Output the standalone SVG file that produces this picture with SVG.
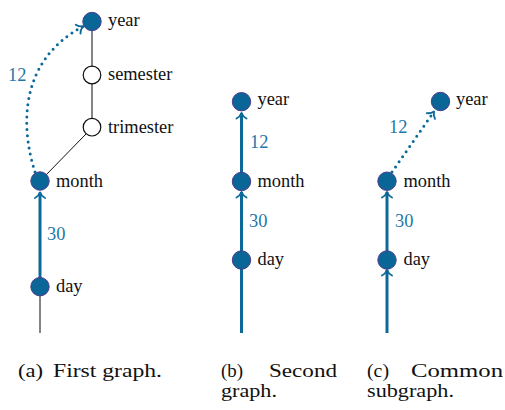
<svg xmlns="http://www.w3.org/2000/svg" width="505" height="410" viewBox="0 0 505 410">
<style>
.lbl{font-family:"Liberation Serif","Times New Roman",serif;font-size:18.4px;fill:#111}
.num{font-family:"Liberation Serif","Times New Roman",serif;font-size:18.4px;fill:#1f77a8}
.cap{font-family:"Liberation Serif","Times New Roman",serif;font-size:19px;fill:#111}
.full{fill:#0a6697;stroke:#4a3c8c;stroke-width:1}
.empty{fill:#fff;stroke:#111;stroke-width:1.2}
.blue{fill:none;stroke:#0d6a98;stroke-width:3}
.dot{fill:none;stroke:#0d6a98;stroke-width:3;stroke-dasharray:0 6.2;stroke-linecap:round}
.gray{fill:none;stroke:#666;stroke-width:1.6}
.thin{fill:none;stroke:#111;stroke-width:1}
</style>
<defs>
<marker id="ah" markerUnits="userSpaceOnUse" markerWidth="12" markerHeight="12" refX="0" refY="0" orient="auto" overflow="visible">
<path d="M -5.5 -5 C -4 -2 -1.5 -0.6 0 0 C -1.5 0.6 -4 2 -5.5 5" fill="none" stroke="#0d6a98" stroke-width="1.9" stroke-linecap="round" stroke-linejoin="round"/>
</marker>
</defs>
<g id="connectors">
<line class="gray" x1="92" y1="22" x2="92" y2="127"/>
<line class="thin" x1="86" y1="134" x2="45" y2="176"/>
<line class="gray" x1="40" y1="287" x2="40" y2="333"/>
<line class="blue" x1="40" y1="278" x2="40" y2="192.5" marker-end="url(#ah)"/>
<path class="dot" d="M 35 172 C 22 132 16 62 83 26.5" marker-end="url(#ah)"/>
<line class="blue" x1="241.5" y1="333" x2="241.5" y2="192" marker-end="url(#ah)"/>
<line class="blue" x1="241.5" y1="181" x2="241.5" y2="113" marker-end="url(#ah)"/>
<line class="blue" x1="387" y1="333" x2="387" y2="270" marker-end="url(#ah)"/>
<line class="blue" x1="387" y1="260" x2="387" y2="192" marker-end="url(#ah)"/>
<line class="dot" x1="392" y1="172" x2="434" y2="111.5" marker-end="url(#ah)"/>
<text class="num" x="8" y="81">12</text>
<text class="num" x="47" y="240">30</text>
<text class="num" x="250" y="148">12</text>
<text class="num" x="249" y="227">30</text>
<text class="num" x="389" y="133">12</text>
<text class="num" x="395" y="227">30</text>
</g>
<g id="a-year"><circle class="full" cx="92" cy="21.5" r="9.2"/><text class="lbl" x="108" y="26">year</text></g>
<g id="a-semester"><circle class="empty" cx="92" cy="75" r="8.8"/><text class="lbl" x="108" y="80">semester</text></g>
<g id="a-trimester"><circle class="empty" cx="92" cy="127.2" r="8.8"/><text class="lbl" x="108" y="133">trimester</text></g>
<g id="a-month"><circle class="full" cx="40" cy="181" r="9.2"/><text class="lbl" x="56" y="186.5">month</text></g>
<g id="a-day"><circle class="full" cx="40" cy="286.7" r="9.2"/><text class="lbl" x="56" y="292">day</text></g>
<g id="b-year"><circle class="full" cx="241.5" cy="101.7" r="9.2"/><text class="lbl" x="257.5" y="105">year</text></g>
<g id="b-month"><circle class="full" cx="241.5" cy="181.5" r="9.2"/><text class="lbl" x="257.5" y="186.5">month</text></g>
<g id="b-day"><circle class="full" cx="241.5" cy="260" r="9.2"/><text class="lbl" x="257.5" y="265">day</text></g>
<g id="c-year"><circle class="full" cx="440.5" cy="101.5" r="9.2"/><text class="lbl" x="456" y="105">year</text></g>
<g id="c-month"><circle class="full" cx="387" cy="181.2" r="9.2"/><text class="lbl" x="403.5" y="186.5">month</text></g>
<g id="c-day"><circle class="full" cx="387" cy="260" r="9.2"/><text class="lbl" x="403.5" y="265">day</text></g>
<g id="captions">
<text class="cap" x="18" y="377" textLength="25" lengthAdjust="spacingAndGlyphs">(a)</text>
<text class="cap" x="53" y="377" textLength="109" lengthAdjust="spacingAndGlyphs">First graph.</text>
<text class="cap" x="221" y="376.5" textLength="22" lengthAdjust="spacingAndGlyphs">(b)</text>
<text class="cap" x="269" y="376.5" textLength="68" lengthAdjust="spacingAndGlyphs">Second</text>
<text class="cap" x="221" y="396.5" textLength="56" lengthAdjust="spacingAndGlyphs">graph.</text>
<text class="cap" x="367" y="376.5" textLength="22" lengthAdjust="spacingAndGlyphs">(c)</text>
<text class="cap" x="411" y="376.5" textLength="92" lengthAdjust="spacingAndGlyphs">Common</text>
<text class="cap" x="367" y="396.5" textLength="87" lengthAdjust="spacingAndGlyphs">subgraph.</text>
</g>
</svg>
